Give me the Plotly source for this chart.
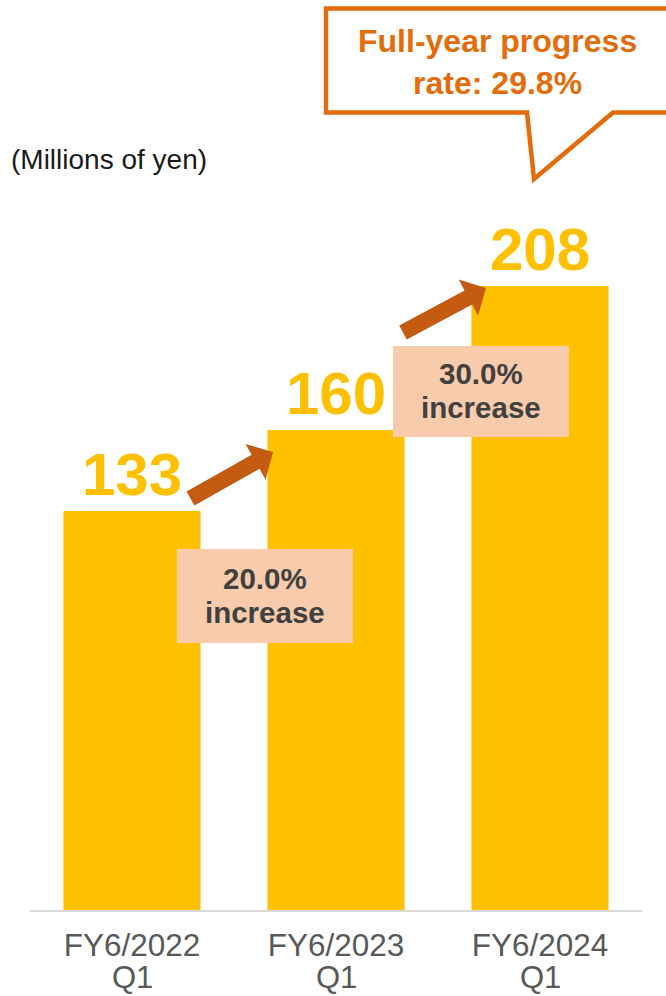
import math
import plotly.graph_objects as go

# Quarterly figures (millions of yen)
periods = ["FY6/2022", "FY6/2023", "FY6/2024"]
quarter = ["Q1", "Q1", "Q1"]
values = [133, 160, 208]
growth_rates = ["20.0%", "30.0%"]
callout_text = "Full-year progress<br>rate: 29.8%"
unit_label = "(Millions of yen)"

W, H = 666, 996
ML, MR, MT, MB = 30, 24, 0, 86
PW, PH = W - ML - MR, H - MT - MB
Y_MAX = PH / 3.0

BAR = "#FFC000"
ARROW = "#C55A11"
ORANGE = "#E46C0A"
BOX = "#F8CBAD"
TICK = "#595959"
FONT = "Arial, Liberation Sans, sans-serif"


def px(x, y):
    """Figure pixel position -> paper coordinates."""
    return (x - ML) / PW, (MT + PH - y) / PH


def path(points):
    pts = [px(x, y) for x, y in points]
    return "M " + " L ".join(f"{a:.5f},{b:.5f}" for a, b in pts) + " Z"


def arrow(tail, tip, half_shaft=8, half_head=20.5, head_len=20):
    dx, dy = tip[0] - tail[0], tip[1] - tail[1]
    d = math.hypot(dx, dy)
    ux, uy = dx / d, dy / d
    nx, ny = -uy, ux
    bx, by = tip[0] - ux * head_len, tip[1] - uy * head_len
    return [
        (tail[0] + nx * half_shaft, tail[1] + ny * half_shaft),
        (bx + nx * half_shaft, by + ny * half_shaft),
        (bx + nx * half_head, by + ny * half_head),
        tip,
        (bx - nx * half_head, by - ny * half_head),
        (bx - nx * half_shaft, by - ny * half_shaft),
        (tail[0] - nx * half_shaft, tail[1] - ny * half_shaft),
    ]


def label(x, y, text, size, color, bold=False, xanchor="center"):
    ax, ay = px(x, y)
    return dict(xref="paper", yref="paper", x=ax, y=ay, text=text,
                showarrow=False, xanchor=xanchor, yanchor="middle",
                font=dict(family=FONT, size=size, color=color,
                          weight="bold" if bold else "normal"))


fig = go.Figure(
    go.Bar(
        x=list(range(len(values))),
        y=values,
        width=0.672,
        marker=dict(color=BAR, line=dict(width=0)),
        text=[str(v) for v in values],
        textposition="outside",
        textfont=dict(family=FONT, size=60, color=BAR, weight="bold"),
        cliponaxis=False,
        hoverinfo="skip",
    )
)

shapes = []
annotations = []

# growth arrows between bars
for tail, tip in [((190.5, 498.5), (273, 452)), ((403, 332.5), (486, 288))]:
    shapes.append(dict(type="path", xref="paper", yref="paper", layer="above",
                       path=path(arrow(tail, tip)), fillcolor=ARROW, line=dict(width=0)))

# growth boxes
for (x0, y0, x1, y1), rate in zip([(177, 549, 353, 643), (393, 346, 569, 437)], growth_rates):
    a0, b0 = px(x0, y1)
    a1, b1 = px(x1, y0)
    shapes.append(dict(type="rect", xref="paper", yref="paper", layer="above",
                       x0=a0, x1=a1, y0=b0, y1=b1, fillcolor=BOX, line=dict(width=0)))
    cx, cy = (x0 + x1) / 2, (y0 + y1) / 2
    annotations.append(label(cx, cy - 18, rate, 29.5, "#404040", bold=True))
    annotations.append(label(cx, cy + 16, "increase", 29.5, "#404040", bold=True))

# speech-bubble callout
shapes.append(dict(type="path", xref="paper", yref="paper", layer="above",
                   path=path([(326, 8.5), (690, 8.5), (690, 112.5), (613, 112.5),
                              (534, 179), (527, 112.5), (326, 112.5)]),
                   fillcolor="white", line=dict(color=ORANGE, width=4.5)))
annotations.append(label(497.5, 62, callout_text, 32, ORANGE, bold=True))

# unit label
annotations.append(label(9, 159, unit_label, 28, "#1a1a1a", xanchor="left"))

# second line of the category labels (quarter)
q_y = px(0, 977)[1]
for i, q in enumerate(quarter):
    annotations.append(dict(xref="x", yref="paper", x=i, y=q_y, text=q,
                            showarrow=False, xanchor="center", yanchor="middle",
                            font=dict(family=FONT, size=31, color=TICK)))

fig.update_layout(
    width=W, height=H,
    margin=dict(l=ML, r=MR, t=MT, b=MB, pad=0),
    paper_bgcolor="white", plot_bgcolor="white",
    showlegend=False,
    shapes=shapes,
    annotations=annotations,
    xaxis=dict(
        range=[-0.5, 2.5],
        tickmode="array",
        tickvals=list(range(len(values))),
        ticktext=periods,
        tickfont=dict(family=FONT, size=31.5, color=TICK),
        ticklabelstandoff=6,
        showline=True, linecolor="#D9D9D9", linewidth=2,
        showgrid=False, zeroline=False, ticks="", automargin=False,
        fixedrange=True,
    ),
    yaxis=dict(range=[0, Y_MAX], visible=False, showgrid=False, zeroline=False,
               fixedrange=True),
)

fig.write_html("out.html")
